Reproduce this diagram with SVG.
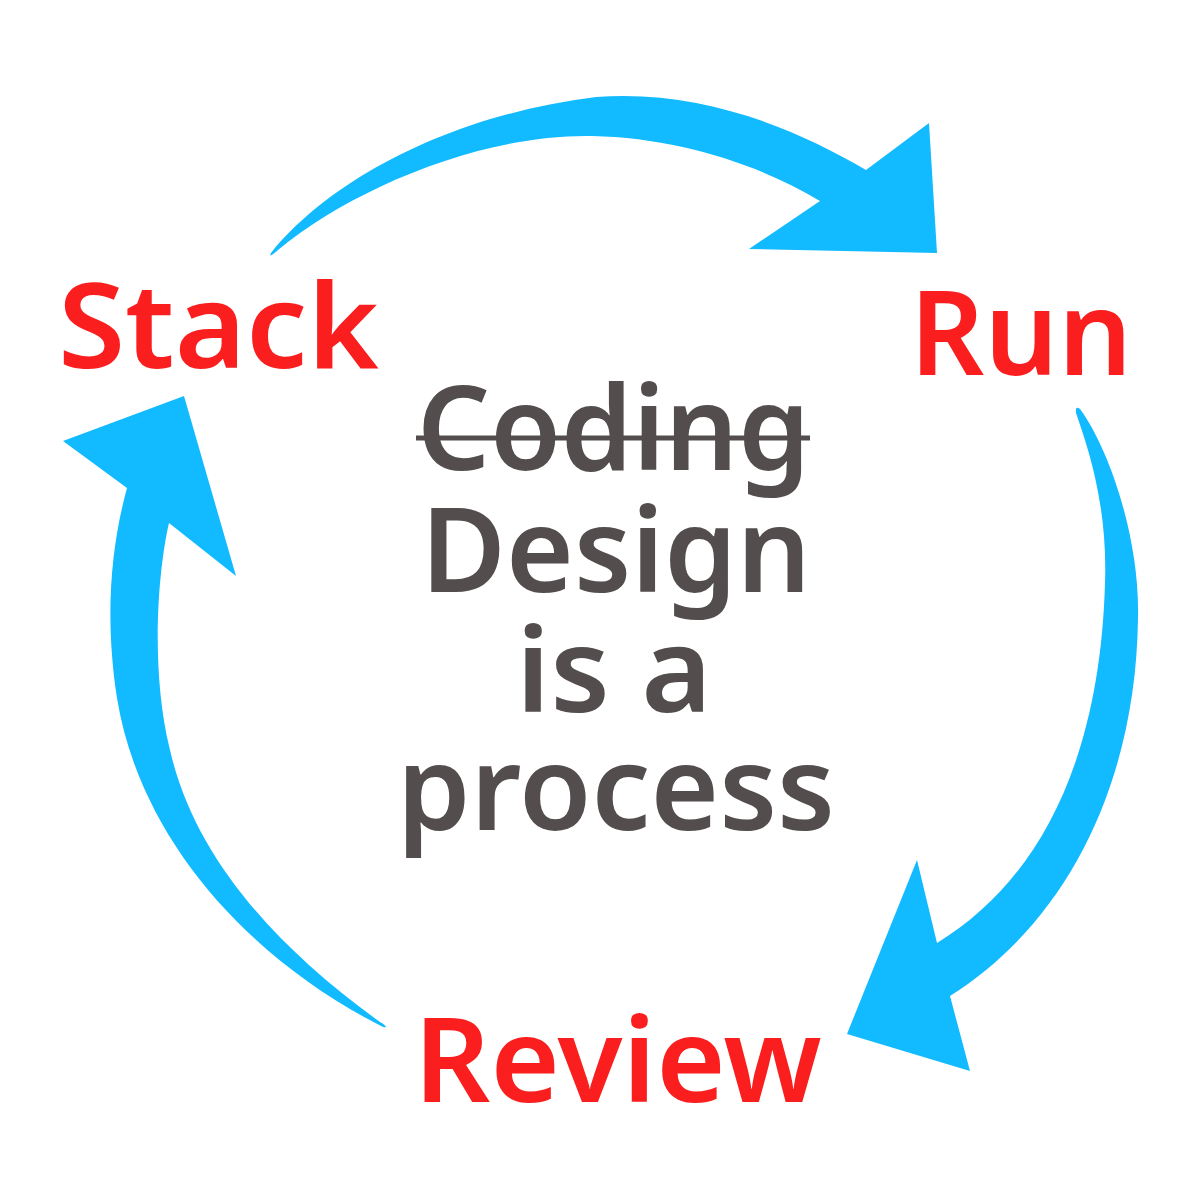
<svg xmlns="http://www.w3.org/2000/svg" width="1200" height="1200" viewBox="0 0 1200 1200">
<style>
.arrow{fill:#12BAFF;stroke:none}
.label{font-family:"Noto Sans","DejaVu Sans",sans-serif;font-size:118px;font-weight:600;fill:#FA1E1E}
.center{font-family:"Noto Sans","DejaVu Sans",sans-serif;font-size:118px;font-weight:600;fill:#534D4E}
</style>
<rect width="1200" height="1200" fill="#ffffff"/>
<g id="connectors">
<path id="arrow-stack-run" class="arrow" d="M271,253 C330,180 450,115 596,97 C700,89 795,128 866,170 L929,123 L937,253 L749,249 L820,201 C760,165 680,138 592,136 C480,134 350,190 278,250 Q268,259 271,253 Z"/>
<path id="arrow-run-review" class="arrow" d="M1080,409 C1110,450 1140,540 1138,618 C1136,780 1070,920 950,996 L970,1071 L847,1034 L917,860 L937,943 C1040,880 1100,760 1105,583 C1108,500 1085,440 1076,413 Q1075,405 1080,409 Z"/>
<path id="arrow-review-stack" class="arrow" d="M383,1027 C250,960 140,840 117,698 C105,620 110,550 127,488 L63,441 L184,396 L236,576 L169,523 C158,570 150,670 170,750 C195,860 280,950 380,1022 Q390,1028 383,1027 Z"/>
</g>
<g id="node-stack"><text class="label" x="58" y="368" textLength="321" lengthAdjust="spacingAndGlyphs">Stack</text></g>
<g id="node-run"><text class="label" x="910" y="375" textLength="222" lengthAdjust="spacingAndGlyphs">Run</text></g>
<g id="node-review"><text class="label" x="414" y="1102" textLength="408" lengthAdjust="spacingAndGlyphs">Review</text></g>
<g id="center-text">
<text class="center" x="417" y="470" textLength="393" lengthAdjust="spacingAndGlyphs">Coding</text>
<line x1="416" y1="438" x2="810" y2="438" stroke="#534D4E" stroke-width="5"/>
<text class="center" x="421" y="592" textLength="390" lengthAdjust="spacingAndGlyphs">Design</text>
<text class="center" x="516" y="712" textLength="196" lengthAdjust="spacingAndGlyphs">is a</text>
<text class="center" x="397" y="830" textLength="438" lengthAdjust="spacingAndGlyphs">process</text>
</g>
</svg>
